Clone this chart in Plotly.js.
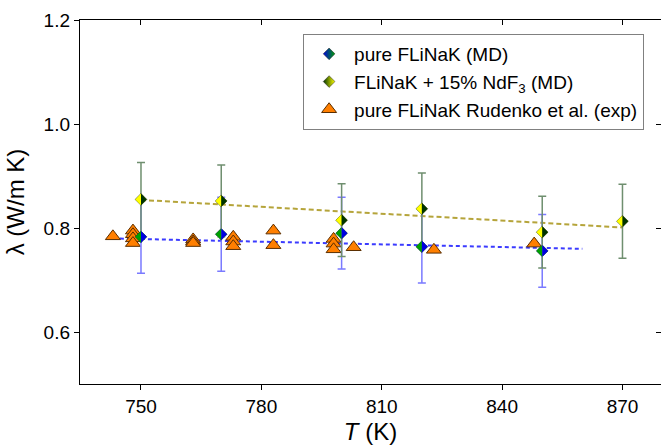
<!DOCTYPE html>
<html>
<head>
<meta charset="utf-8">
<script src="https://cdn.plot.ly/plotly-3.0.1.min.js"></script>
<style>html,body{margin:0;padding:0;background:#fff;}#chart{width:661px;height:445px;}</style>
</head>
<body>
<div id="chart"></div>
<script>
// ---- data ----
const T_pure = [750, 770, 800, 820, 850];
const lam_pure = [0.783, 0.788, 0.790, 0.764, 0.756];
const err_pure = [0.070, 0.071, 0.069, 0.070, 0.070];

const T_nd = [750, 770, 800, 820, 850, 870];
const lam_nd = [0.855, 0.852, 0.815, 0.837, 0.792, 0.813];
const err_nd = [0.071, 0.069, 0.070, 0.069, 0.069, 0.071];

const T_exp = [743, 748, 748, 748, 748, 763, 763, 763, 773, 773, 773, 783, 783, 798, 798, 798, 803, 823, 848];
const lam_exp = [0.784, 0.795, 0.788, 0.780, 0.771, 0.778, 0.774, 0.771, 0.783, 0.774, 0.765, 0.795, 0.767, 0.779, 0.770, 0.759, 0.763, 0.758, 0.770];

const T_fit_pure = [743, 860];
const lam_fit_pure = [0.780, 0.760];
const T_fit_nd = [750, 870];
const lam_fit_nd = [0.854, 0.801];

const xTicks = [750, 780, 810, 840, 870];
const yTicks = [0.6, 0.8, 1.0, 1.2];

// ---- styles ----
const FONT = 'Liberation Sans, Arial, sans-serif';
const DSIZE = 9;
const pureL = '#00a000', pureR = '#0000e0';
const ndL = '#ffff00', ndR = '#003300';

const traces = [
  {x: T_fit_pure, y: lam_fit_pure, mode: 'lines', showlegend: false, hoverinfo: 'skip',
   line: {color: '#3b3bff', width: 2, dash: '4px,3px'}},
  {x: T_fit_nd, y: lam_fit_nd, mode: 'lines', showlegend: false, hoverinfo: 'skip',
   line: {color: '#b5a43a', width: 2, dash: '5px,3px'}},
  {x: T_exp, y: lam_exp, mode: 'markers', name: 'pure FLiNaK Rudenko et al. (exp)', legendrank: 3,
   marker: {symbol: 'triangle-up', size: 13, color: '#ff7f00', line: {color: '#5a2e00', width: 1}}},
  {x: T_pure, y: lam_pure, mode: 'markers', name: 'pure FLiNaK (MD)', legendrank: 1,
   error_y: {type: 'data', array: err_pure, visible: true, color: '#7a7aff', thickness: 1.5, width: 4},
   marker: {symbol: 'diamond', size: DSIZE, color: pureR, line: {color: '#202020', width: 0.5},
            gradient: {type: 'horizontal', color: pureL}}},
  {x: T_nd, y: lam_nd, mode: 'markers', name: 'FLiNaK + 15% NdF<sub>3</sub> (MD)', legendrank: 2,
   error_y: {type: 'data', array: err_nd, visible: true, color: '#6f8f6f', thickness: 1.5, width: 4},
   marker: {symbol: 'diamond', size: DSIZE, color: ndR, line: {color: '#202020', width: 0.5},
            gradient: {type: 'horizontal', color: ndL}}},
  {x: [], y: [], xaxis: 'x2', yaxis: 'y2', showlegend: false, hoverinfo: 'skip', mode: 'markers'}
];

// split-coloured diamonds: left / right halves as pixel-sized shapes anchored at data points
const h = 0.65 * DSIZE;
const leftPath = `M0,${-h}L${-h},0L0,${h}Z`;
const rightPath = `M0,${-h}L${h},0L0,${h}Z`;
const shapes = [];
function addDiamonds(xs, ys, cl, cr) {
  xs.forEach((xv, i) => {
    [[leftPath, cl], [rightPath, cr]].forEach(([p, c]) => {
      shapes.push({type: 'path', xref: 'x', yref: 'y', xsizemode: 'pixel', ysizemode: 'pixel',
        xanchor: xv, yanchor: ys[i], path: p, fillcolor: c, line: {width: 0}, layer: 'above'});
    });
  });
}
addDiamonds(T_pure, lam_pure, pureL, pureR);
addDiamonds(T_nd, lam_nd, ndL, ndR);

const xr = [734.8, 879.6];
const yr = [0.5, 1.2];

const layout = {
  width: 661, height: 445,
  margin: {l: 80, r: 0, t: 20, b: 61},
  paper_bgcolor: '#fff', plot_bgcolor: '#fff',
  font: {family: FONT, size: 19, color: '#000'},
  showlegend: true,
  legend: {x: 0.384, y: 0.9615, xanchor: 'left', yanchor: 'top', bgcolor: '#fff', itemwidth: 40,
           bordercolor: '#808080', borderwidth: 1, font: {family: FONT, size: 19, color: '#000'}},
  xaxis: {range: xr, tickvals: xTicks, ticks: 'outside', ticklen: 5, tickwidth: 1, tickcolor: '#000',
          showline: true, linecolor: '#000', linewidth: 1.2, showgrid: false, zeroline: false,
          title: {text: '<i>T</i> (K)', font: {family: FONT, size: 24}, standoff: 8}},
  yaxis: {range: yr, tickvals: yTicks, tickformat: '.1f', ticks: 'outside', ticklen: 5, tickwidth: 1, tickcolor: '#000',
          showline: true, linecolor: '#000', linewidth: 1.2, showgrid: false, zeroline: false,
          title: {text: 'λ (W/m K)', font: {family: FONT, size: 24}, standoff: 12}},
  xaxis2: {overlaying: 'x', side: 'top', range: xr, tickvals: xTicks, ticks: 'inside', ticklen: 5, tickcolor: '#000',
           showticklabels: false, showline: true, linecolor: '#000', linewidth: 1.2, showgrid: false, zeroline: false},
  yaxis2: {overlaying: 'y', side: 'right', range: yr, tickvals: yTicks, ticks: 'inside', ticklen: 5, tickcolor: '#000',
           showticklabels: false, showline: false, showgrid: false, zeroline: false},
  shapes: shapes
};

Plotly.newPlot('chart', traces, layout, {staticPlot: true, displayModeBar: false});
</script>
</body>
</html>
